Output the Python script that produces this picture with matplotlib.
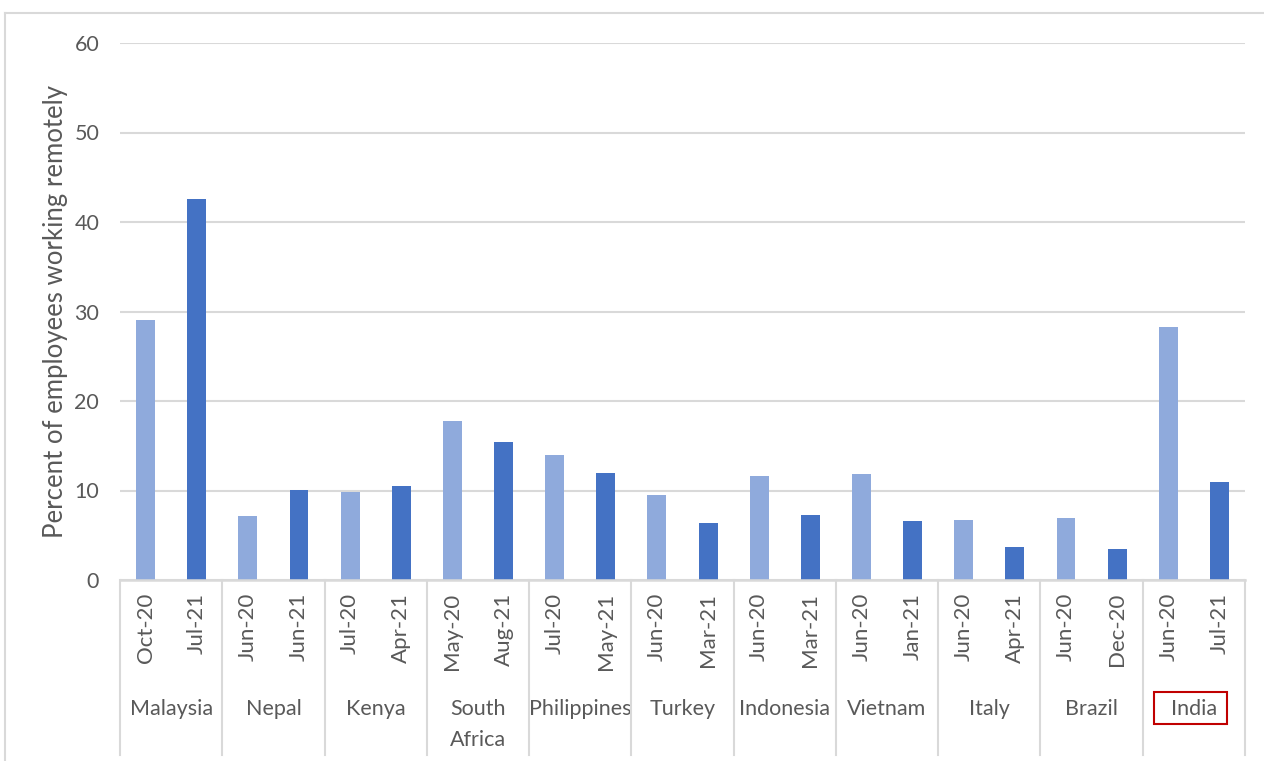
import matplotlib
matplotlib.use("Agg")
import matplotlib.pyplot as plt
from matplotlib.patches import Rectangle
from matplotlib.lines import Line2D
from matplotlib.transforms import blended_transform_factory
import numpy as np

countries = ["Malaysia", "Nepal", "Kenya", "South\nAfrica", "Philippines", "Turkey",
             "Indonesia", "Vietnam", "Italy", "Brazil", "India"]
dates_first = ["Oct-20", "Jun-20", "Jul-20", "May-20", "Jul-20", "Jun-20",
               "Jun-20", "Jun-20", "Jun-20", "Jun-20", "Jun-20"]
dates_second = ["Jul-21", "Jun-21", "Apr-21", "Aug-21", "May-21", "Mar-21",
                "Mar-21", "Jan-21", "Apr-21", "Dec-20", "Jul-21"]
values_first = [29.1, 7.2, 9.8, 17.8, 14.0, 9.5, 11.6, 11.8, 6.7, 6.9, 28.3]
values_second = [42.6, 10.1, 10.5, 15.4, 11.9, 6.4, 7.3, 6.6, 3.65, 3.5, 11.0]
yticks = [0, 10, 20, 30, 40, 50, 60]
ylabel = "Percent of employees working remotely"

LIGHT = "#8FAADC"
DARK = "#4472C4"
TEXT = "#595959"
GRID = "#D9D9D9"

plt.rcParams["font.family"] = ["Lato", "DejaVu Sans"]

W, H = 1264, 761
fig = plt.figure(figsize=(W / 100, H / 100), dpi=100)
ax_left, ax_right, ax_bottom, ax_top = 120, 1245, 580, 43
ax = fig.add_axes([ax_left / W, (H - ax_bottom) / H,
                   (ax_right - ax_left) / W, (ax_bottom - ax_top) / H])

n = len(countries)
pos_first = np.arange(n) * 2
pos_second = pos_first + 1
bw = 0.37
ax.bar(pos_first, values_first, width=bw, color=LIGHT, zorder=3)
ax.bar(pos_second, values_second, width=bw, color=DARK, zorder=3)

ax.set_xlim(-0.5, 2 * n - 0.5)
ax.set_ylim(0, 60)
ax.set_yticks(yticks)
ax.set_yticklabels([str(t) for t in yticks], fontsize=15.5, color=TEXT)
ax.tick_params(axis="y", length=0, pad=15)
ax.set_xticks([])
ax.yaxis.grid(True, color=GRID, lw=1.5, zorder=0)
ax.set_axisbelow(True)
for s in ["top", "right", "left"]:
    ax.spines[s].set_visible(False)
ax.spines["bottom"].set_color(GRID)
ax.spines["bottom"].set_linewidth(1.8)
ax.spines["bottom"].set_zorder(4)

def fy(py):
    return (H - py) / H

fig.text(55 / W, fy((ax_top + ax_bottom) / 2), ylabel, rotation=90,
         ha="center", va="center", fontsize=18.5, color=TEXT)

# Multi-level category axis below plot
trans = blended_transform_factory(ax.transData, fig.transFigure)

for i in range(n):
    ax.text(pos_first[i], fy(593), dates_first[i], transform=trans, rotation=90,
            ha="center", va="top", fontsize=16, color=TEXT)
    ax.text(pos_second[i], fy(593), dates_second[i], transform=trans, rotation=90,
            ha="center", va="top", fontsize=16, color=TEXT)
    ax.text(pos_first[i] + 0.5, fy(699), countries[i], transform=trans,
            ha="center", va="top", fontsize=15.5, color=TEXT, linespacing=1.7)

for k in range(n + 1):
    x = k * 2 - 0.5
    fig.add_artist(Line2D([x, x], [fy(580), fy(755)], transform=trans,
                          color=GRID, lw=1.5))

# Red box around India
fig.add_artist(Rectangle((1154 / W, fy(724)), (1227 - 1154) / W, (724 - 692) / H,
                         transform=fig.transFigure, fill=False,
                         edgecolor="#C00000", lw=1.5))

# Outer chart border (left and top)
fig.add_artist(Line2D([5 / W, 5 / W], [0, fy(13)], transform=fig.transFigure,
                      color=GRID, lw=1.5))
fig.add_artist(Line2D([5 / W, 1], [fy(13), fy(13)], transform=fig.transFigure,
                      color=GRID, lw=1.5))

fig.savefig("out.png", dpi=100)
